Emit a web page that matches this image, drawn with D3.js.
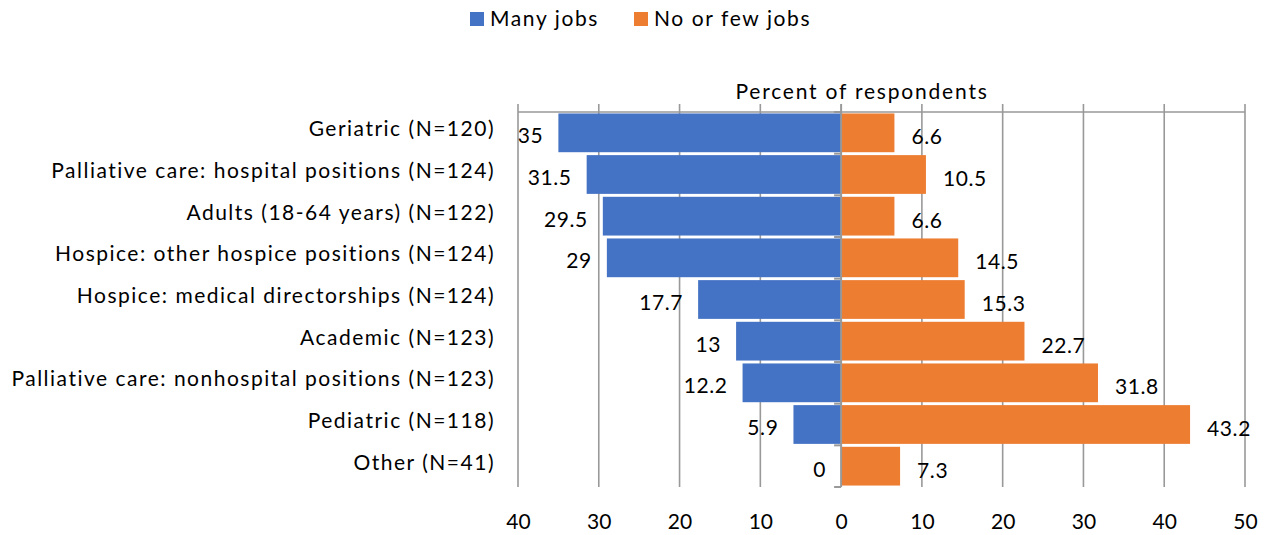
<!DOCTYPE html>
<html>
<head>
<meta charset="utf-8">
<script src="https://cdn.jsdelivr.net/npm/d3@7"></script>
<style>
  html, body { margin: 0; padding: 0; background: #fff; }
  svg text { font-family: Lato, "Liberation Sans", sans-serif; fill: #000; }
</style>
</head>
<body>
<svg id="chart" width="1270" height="535"></svg>
<script>
// Job market perception by practice area
const categories = [
  "Geriatric (N=120)",
  "Palliative care: hospital positions (N=124)",
  "Adults (18-64 years) (N=122)",
  "Hospice: other hospice positions (N=124)",
  "Hospice: medical directorships (N=124)",
  "Academic (N=123)",
  "Palliative care: nonhospital positions (N=123)",
  "Pediatric (N=118)",
  "Other (N=41)"
];
const manyJobs = [35, 31.5, 29.5, 29, 17.7, 13, 12.2, 5.9, 0];
const fewJobs = [6.6, 10.5, 6.6, 14.5, 15.3, 22.7, 31.8, 43.2, 7.3];
const seriesNames = ["Many jobs", "No or few jobs"];
const tickValues = [-40, -30, -20, -10, 0, 10, 20, 30, 40, 50];
const axisTitle = "Percent of respondents";

const colors = { many: "#4472C4", few: "#ED7D31" };
const gridColor = "#999999";

const svg = d3.select("#chart");

const x = d3.scaleLinear().domain([-40, 50]).range([518, 1245]);
const y = d3.scaleBand().domain(categories).range([112, 487]).paddingInner(0.07).paddingOuter(0.035);

// vertical gridlines with short outward ticks above the top axis line
const grid = svg.append("g");
grid.selectAll("line.grid")
  .data(tickValues.filter(d => d !== 0))
  .join("line")
  .attr("x1", d => x(d)).attr("x2", d => x(d))
  .attr("y1", 104).attr("y2", 487)
  .attr("stroke", gridColor).attr("stroke-width", 1.6);

// top horizontal axis line
grid.append("line")
  .attr("x1", x(-40)).attr("x2", x(50))
  .attr("y1", 112).attr("y2", 112)
  .attr("stroke", gridColor).attr("stroke-width", 1.6);

// bars
const rows = categories.map((c, i) => ({ c, many: manyJobs[i], few: fewJobs[i] }));

svg.append("g").selectAll("rect")
  .data(rows)
  .join("rect")
  .attr("x", d => x(-d.many))
  .attr("y", d => y(d.c))
  .attr("width", d => x(0) - x(-d.many))
  .attr("height", y.bandwidth())
  .attr("fill", colors.many);

svg.append("g").selectAll("rect")
  .data(rows)
  .join("rect")
  .attr("x", x(0))
  .attr("y", d => y(d.c))
  .attr("width", d => x(d.few) - x(0))
  .attr("height", y.bandwidth())
  .attr("fill", colors.few);

// category axis at zero with ticks pointing left
const step = (487 - 112) / categories.length;
const zeroAxis = svg.append("g");
zeroAxis.append("line")
  .attr("x1", x(0)).attr("x2", x(0))
  .attr("y1", 104).attr("y2", 487)
  .attr("stroke", gridColor).attr("stroke-width", 2);
zeroAxis.selectAll("line.tick")
  .data(d3.range(categories.length + 1))
  .join("line")
  .attr("x1", x(0) - 7).attr("x2", x(0))
  .attr("y1", i => 112 + i * step).attr("y2", i => 112 + i * step)
  .attr("stroke", gridColor).attr("stroke-width", 2);

// category labels
svg.append("g").selectAll("text")
  .data(categories)
  .join("text")
  .attr("x", 495)
  .attr("y", d => y(d) + y.bandwidth() / 2 - 4)
  .attr("dy", "0.35em")
  .attr("text-anchor", "end")
  .attr("font-size", 21)
  .attr("letter-spacing", 1.5)
  .text(d => d);

// value labels
svg.append("g").selectAll("text")
  .data(rows)
  .join("text")
  .attr("x", d => x(-d.many) - 15)
  .attr("y", d => y(d.c) + y.bandwidth() / 2 + 3)
  .attr("dy", "0.35em")
  .attr("text-anchor", "end")
  .attr("font-size", 21)
  .attr("letter-spacing", 0.6)
  .text(d => d.many);

svg.append("g").selectAll("text")
  .data(rows)
  .join("text")
  .attr("x", d => x(d.few) + 17)
  .attr("y", d => y(d.c) + y.bandwidth() / 2 + 4)
  .attr("dy", "0.35em")
  .attr("text-anchor", "start")
  .attr("font-size", 21)
  .attr("letter-spacing", 0.6)
  .text(d => d.few);

// bottom tick labels (absolute values)
const axis = d3.axisBottom(x).tickValues(tickValues).tickFormat(d => Math.abs(d)).tickSize(0).tickPadding(0);
const axisG = svg.append("g").attr("transform", "translate(0,514)").call(axis);
axisG.select(".domain").remove();
axisG.selectAll("text").attr("font-size", 21).attr("font-family", "Lato, sans-serif").attr("fill", "#000");

// axis title
svg.append("text")
  .attr("x", 862).attr("y", 92)
  .attr("dy", "0.35em")
  .attr("text-anchor", "middle")
  .attr("font-size", 21)
  .attr("letter-spacing", 1.8)
  .text(axisTitle);

// legend
const legend = svg.append("g");
const legendItems = [
  { name: seriesNames[0], color: colors.many, x: 470 },
  { name: seriesNames[1], color: colors.few, x: 634 }
];
legendItems.forEach(it => {
  legend.append("rect").attr("x", it.x).attr("y", 12).attr("width", 14).attr("height", 14).attr("fill", it.color);
  legend.append("text").attr("x", it.x + 20).attr("y", 19).attr("dy", "0.35em")
    .attr("font-size", 21).attr("letter-spacing", 1.6).text(it.name);
});
</script>
</body>
</html>
